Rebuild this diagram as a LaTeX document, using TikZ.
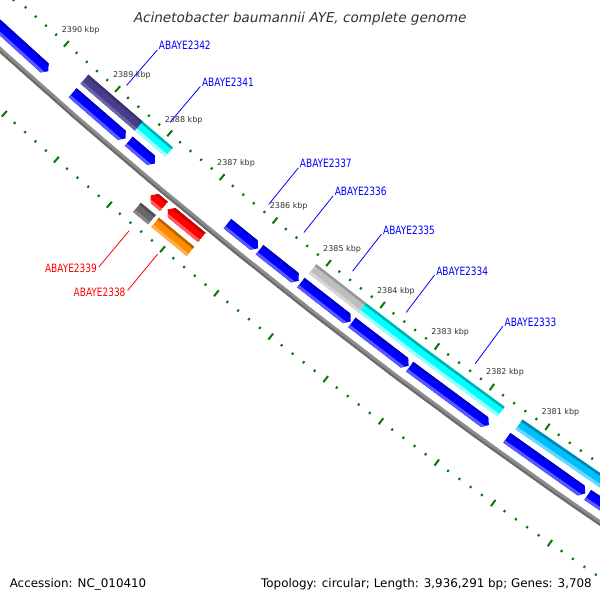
\documentclass[tikz,border=0pt]{standalone}
\usepackage{fontspec}
\setmainfont{DejaVu Sans}
\newfontfamily\titlefont[FakeSlant=0.2]{DejaVu Sans}
\newfontfamily\genefont[FakeStretch=0.78]{DejaVu Sans}
\definecolor{tickgreen}{HTML}{007A00}
\definecolor{kbpgray}{HTML}{333333}
\definecolor{titlegray}{HTML}{333333}
\definecolor{geneblue}{HTML}{0000FF}
\definecolor{genered}{HTML}{FF0000}
\definecolor{bbgray}{HTML}{8C8C8C}
\definecolor{bbdark}{HTML}{6A6A6A}
\definecolor{fblue}{HTML}{0000FF}
\definecolor{fbluedk}{HTML}{0000C8}
\definecolor{fbluelt}{HTML}{5A5AFF}
\definecolor{fpurple}{HTML}{483D8B}
\definecolor{fpurpledk}{HTML}{3A3170}
\definecolor{fpurplelt}{HTML}{6D64A8}
\definecolor{fcyan}{HTML}{00FFFF}
\definecolor{fcyandk}{HTML}{00B2B2}
\definecolor{fcyanlt}{HTML}{A0FFFF}
\definecolor{fgray}{HTML}{BEBEBE}
\definecolor{fgraydk}{HTML}{989898}
\definecolor{fgraylt}{HTML}{D6D6D6}
\definecolor{fsky}{HTML}{00BFFF}
\definecolor{fskydk}{HTML}{0087B4}
\definecolor{fskylt}{HTML}{66D9FF}
\definecolor{fred}{HTML}{FF0000}
\definecolor{freddk}{HTML}{C80000}
\definecolor{fredlt}{HTML}{FF5A5A}
\definecolor{forange}{HTML}{FF8C00}
\definecolor{forangedk}{HTML}{B86400}
\definecolor{forangelt}{HTML}{FFAE4D}
\definecolor{fdim}{HTML}{696969}
\definecolor{fdimdk}{HTML}{4E4E4E}
\definecolor{fdimlt}{HTML}{8A8A8A}
% flat feature: #1 pos1, #2 pos2, #3 rin, #4 rout, #5 main, #6 dark, #7 light
\newcommand\flatfeat[7]{%
  \fill[#5] ({ang(#1)}:#3) -- ({ang(#2)}:#3) -- ({ang(#2)}:#4) -- ({ang(#1)}:#4) -- cycle;
  \fill[#6] ({ang(#1)}:#3) -- ({ang(#2)}:#3) -- ({ang(#2)}:{#3+2.5}) -- ({ang(#1)}:{#3+2.5}) -- cycle;
  \fill[#7] ({ang(#1)}:{#4-3}) -- ({ang(#2)}:{#4-3}) -- ({ang(#2)}:#4) -- ({ang(#1)}:#4) -- cycle;
}
% arrow feature: #1 flat end pos, #2 tip pos
\newcommand\arrfeat[7]{%
  \pgfmathsetmacro\featab{#2+0.075*sign(#1-#2)}%
  \pgfmathsetmacro\featrmid{(#3+#4)/2}%
  \begin{scope}
    \clip ({ang(#1)}:#3) -- ({ang(\featab)}:#3) -- ({ang(#2)}:\featrmid) -- ({ang(\featab)}:#4) -- ({ang(#1)}:#4) -- cycle;
    \fill[#5] ({ang(#1)}:{#3-1}) -- ({ang(#2)}:{#3-1}) -- ({ang(#2)}:{#4+1}) -- ({ang(#1)}:{#4+1}) -- cycle;
    \fill[#6] ({ang(#1)}:{#3-1}) -- ({ang(#2)}:{#3-1}) -- ({ang(#2)}:{#3+2.5}) -- ({ang(#1)}:{#3+2.5}) -- cycle;
    \fill[#7] ({ang(#1)}:{#4-3}) -- ({ang(#2)}:{#4-3}) -- ({ang(#2)}:{#4+1}) -- ({ang(#1)}:{#4+1}) -- cycle;
  \end{scope}
}
\begin{document}
\begin{tikzpicture}[x=1pt,y=-1pt,
  declare function={ang(\p)=128.19+(\p-2385)*0.681;},
  tickmaj/.style={line width=2pt, draw=tickgreen},
  tickmin/.style={line width=2pt, draw=tickgreen},
  kbplab/.style={font=\fontsize{8}{9}\selectfont, text=kbpgray, inner sep=0pt},
  bluelab/.style={font=\genefont\fontsize{11.5}{12}\selectfont, text=geneblue, inner sep=0pt, anchor=base west},
  redlab/.style={font=\genefont\fontsize{11.5}{12}\selectfont, text=genered, inner sep=0pt, anchor=east},
  bleader/.style={draw=geneblue, line width=0.8pt},
  rleader/.style={draw=genered, line width=0.8pt}]
\useasboundingbox (0,0) rectangle (600,600);
\fill[white] (0,0) rectangle (600,600);
\clip (0,0) rectangle (600,600);
\begin{scope}[shift={(3885,-4258)}]
  % ruler ticks (inner labelled row and outer row)
  \foreach \i in {0,...,80}{%
    \pgfmathsetmacro\ta{ang(2377+0.2*\i)}%
    \pgfmathtruncatemacro\tm{mod(\i,5)}%
    \ifnum\tm=0
      \draw[tickmaj] (\ta:5748.7) -- (\ta:5756.3);
      \draw[tickmaj] (\ta:5842.2) -- (\ta:5849.8);
    \else
      \draw[tickmin] (\ta:5751.3) -- (\ta:5753.7);
      \draw[tickmin] (\ta:5844.8) -- (\ta:5847.2);
    \fi
  }
  \foreach \k in {2381,...,2390}{%
    \node[kbplab] (k\k) at ({ang(\k-0.03)}:5733.2) {\k\ kbp};
  }
  % backbone
  \draw[line width=5pt, draw=bbgray] plot[domain=121:136, samples=150, variable=\t] (\t:5801);
  \draw[line width=2pt, draw=bbdark] plot[domain=121:136, samples=150, variable=\t] (\t:5802.5);
  % track I1 (blue, arrows)
  \arrfeat{2391.8}{2389.93}{5779}{5791}{fblue}{fbluedk}{fbluelt}
  \arrfeat{2389.46}{2388.44}{5779}{5791}{fblue}{fbluedk}{fbluelt}
  \arrfeat{2388.38}{2387.88}{5779}{5791}{fblue}{fbluedk}{fbluelt}
  \arrfeat{2386.51}{2385.94}{5779}{5791}{fblue}{fbluedk}{fbluelt}
  \arrfeat{2385.91}{2385.18}{5779}{5791}{fblue}{fbluedk}{fbluelt}
  \arrfeat{2385.14}{2384.22}{5779}{5791}{fblue}{fbluedk}{fbluelt}
  \arrfeat{2384.20}{2383.16}{5779}{5791}{fblue}{fbluedk}{fbluelt}
  \arrfeat{2383.14}{2381.71}{5779}{5791}{fblue}{fbluedk}{fbluelt}
  \arrfeat{2381.39}{2379.99}{5779}{5791}{fblue}{fbluedk}{fbluelt}
  \arrfeat{2379.95}{2377.5}{5779}{5791}{fblue}{fbluedk}{fbluelt}
  % track I2
  \flatfeat{2389.46}{2388.41}{5761}{5773}{fpurple}{fpurpledk}{fpurplelt}
  \flatfeat{2388.41}{2387.83}{5761}{5773}{fcyan}{fcyandk}{fcyanlt}
  \flatfeat{2385.13}{2384.21}{5761}{5773}{fgray}{fgraydk}{fgraylt}
  \flatfeat{2384.21}{2383.16}{5761}{5773}{fcyan}{fcyandk}{fcyanlt}
  \flatfeat{2383.16}{2381.68}{5761}{5773}{fcyan}{fcyandk}{fcyanlt}
  \flatfeat{2381.36}{2378.0}{5761}{5773}{fsky}{fskydk}{fskylt}
  % track O1 (red, arrows)
  \arrfeat{2387.38}{2387.63}{5806}{5818}{fred}{freddk}{fredlt}
  \arrfeat{2386.67}{2387.31}{5806}{5818}{fred}{freddk}{fredlt}
  % track O2
  \flatfeat{2387.67}{2387.39}{5824}{5836}{fdim}{fdimdk}{fdimlt}
  \flatfeat{2387.33}{2386.67}{5824}{5836}{forange}{forangedk}{forangelt}
  % leader end points
  \foreach \g/\p in {2342/2388.935, 2341/2388.10, 2337/2386.22, 2336/2385.56, 2335/2384.65, 2334/2383.66, 2333/2382.40}{%
    \coordinate (o\g) at ({ang(\p)}:5744);
    \coordinate (i\g) at ({ang(\p)}:5697);
  }
  \foreach \g/\p in {2339/2387.54, 2338/2387.01}{%
    \coordinate (i\g) at ({ang(\p)}:5853);
    \coordinate (o\g) at ({ang(\p)}:5900);
  }
\end{scope}
% gene labels
\foreach \g in {2342,2341,2337,2336,2335,2334,2333}{%
  \draw[bleader] (o\g) -- (i\g);
  \node[bluelab, xshift=1.5pt] (n\g) at (i\g) {ABAYE\g};
}
\foreach \g in {2339,2338}{%
  \draw[rleader] (i\g) -- (o\g);
  \node[redlab, xshift=-2pt, yshift=-1.8pt] (n\g) at (o\g) {ABAYE\g};
}
% title and footer
\node[font=\titlefont\fontsize{13.6}{15}\selectfont, text=titlegray, anchor=base, inner sep=0pt] (title) at (299.5,22.7) {Acinetobacter baumannii AYE, complete genome};
\node[font=\fontsize{11.9}{13}\selectfont, anchor=base west, inner sep=0pt] (acc) at (9.6,587) {Accession: NC\_010410};
\node[font=\fontsize{11.9}{13}\selectfont, anchor=base east, inner sep=0pt] (topo) at (592,587) {Topology: circular; Length: 3,936,291 bp; Genes: 3,708};
\end{tikzpicture}
\end{document}
